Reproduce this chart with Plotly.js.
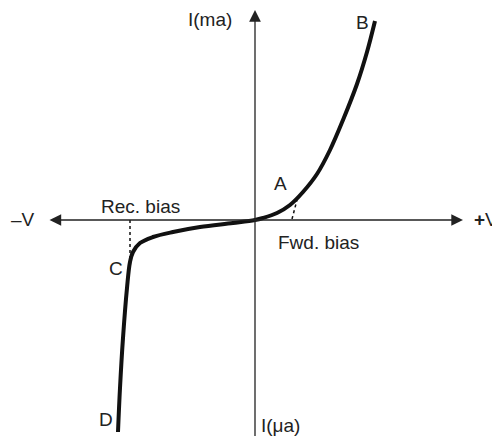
<!DOCTYPE html>
<html>
<head>
<meta charset="utf-8">
<script src="https://cdn.plot.ly/plotly-3.0.1.min.js"></script>
<style>html,body{margin:0;padding:0;background:#fff;}#chart{width:492px;height:436px;}</style>
</head>
<body>
<div id="chart"></div>
<script>
// Characteristic curve (schematic units: V horizontal, I vertical, origin at axes crossing)
const curveV = [-137, -135, -132, -128, -125, -122, -115, -102, -82, -55, -22, 0, 8, 22, 35, 48, 62, 75, 88, 102, 112, 120];
const curveI = [-212, -168, -118, -68, -42, -32, -23, -17, -12, -7, -3, 0, 2, 7, 15, 28, 46, 70, 100, 136, 168, 199];
// Dashed markers at knee points
const dashC_V = [-125, -125];
const dashC_I = [0, -38];
const dashA_V = [37, 42];
const dashA_I = [1, 20];
// Labels
const labelText = ["I(ma)", "B", "A", "Rec. bias", "–V", "<b>+</b>V", "Fwd. bias", "C", "D", "I(μa)"];
const labelV = [-21, 107, 25, -156, -246, 217, 21, -139, -149, 4];
const labelI = [201, 198, 37, 14, 1, 1, -22, -48, -199, -205];
const labelAnchor = ["right", "center", "center", "left", "left", "left", "left", "center", "center", "left"];

const font = {family: "Liberation Sans, Arial, sans-serif", size: 19, color: "#222"};

const traces = [
  {x: curveV, y: curveI, mode: "lines", line: {color: "#111", width: 4, shape: "spline", smoothing: 1}, hoverinfo: "skip"},
  {x: dashC_V, y: dashC_I, mode: "lines", line: {color: "#111", width: 1.5, dash: "3px,3px"}, hoverinfo: "skip"},
  {x: dashA_V, y: dashA_I, mode: "lines", line: {color: "#111", width: 1.5, dash: "3px,3px"}, hoverinfo: "skip"}
];

const annotations = labelText.map((t, i) => ({
  x: labelV[i], y: labelI[i], xref: "x", yref: "y", text: t, showarrow: false,
  xanchor: labelAnchor[i], yanchor: "middle", font: font
}));
// axes with arrowheads
annotations.push({x: 208, y: 0, ax: -207, ay: 0, xref: "x", yref: "y", axref: "x", ayref: "y",
  showarrow: true, arrowside: "end+start", arrowhead: 2, startarrowhead: 2, arrowsize: 1.8, startarrowsize: 1.8,
  arrowwidth: 1.3, arrowcolor: "#222", text: ""});
annotations.push({x: 0, y: 210, ax: 0, ay: -220, xref: "x", yref: "y", axref: "x", ayref: "y",
  showarrow: true, arrowhead: 2, arrowsize: 1.8, arrowwidth: 1.3, arrowcolor: "#222", text: ""});

const layout = {
  width: 492, height: 436,
  margin: {l: 0, r: 0, t: 0, b: 0},
  paper_bgcolor: "#fff", plot_bgcolor: "#fff",
  showlegend: false,
  xaxis: {range: [-255, 237], visible: false, fixedrange: true},
  yaxis: {range: [-216, 220], visible: false, fixedrange: true},
  annotations: annotations
};
Plotly.newPlot("chart", traces, layout, {displayModeBar: false, staticPlot: true});
</script>
</body>
</html>
